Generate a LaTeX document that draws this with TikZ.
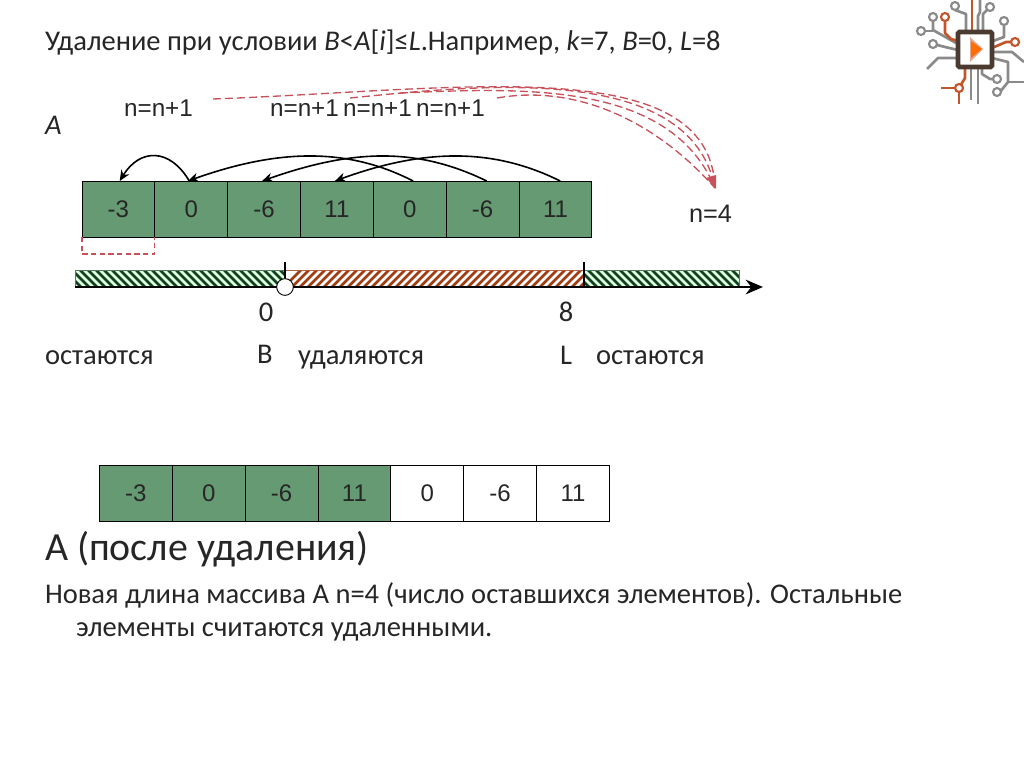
\documentclass[tikz,border=0pt]{standalone}
\usepackage{fontspec}
\setmainfont{Carlito}
\newfontfamily\arialf{Liberation Sans}
\usetikzlibrary{arrows.meta}
\definecolor{cellgreen}{HTML}{669A73}
\definecolor{hatchgreen}{HTML}{10401F}
\definecolor{hatchred}{HTML}{A23A12}
\definecolor{dashred}{HTML}{C8515A}
\definecolor{chipgray}{HTML}{8A8A8A}
\definecolor{chiporange}{HTML}{C4552B}
\definecolor{chipdark}{HTML}{4A3A30}
\tikzset{
  cell/.style={draw=black,line width=0.7pt,fill=cellgreen,minimum width=54.6pt,minimum height=42pt,inner sep=0pt,outer sep=0pt,font=\arialf\fontsize{18}{22}\selectfont,text=black!85},
  whitecell/.style={cell,fill=white},
  txt/.style={anchor=base west,inner sep=0pt,outer sep=0pt,font=\fontsize{21.4}{26}\selectfont,text=black!85},
  lab/.style={anchor=base,inner sep=0pt,font=\arialf\fontsize{18.2}{22}\selectfont,text=black!85},
  movearc/.style={line width=1.2pt,-{Stealth[length=8pt,width=7pt]}},
  reddash/.style={draw=dashred,line width=1pt,dash pattern=on 6pt off 3pt},
  chipg/.style={draw=chipgray,line width=2pt,line join=round},
  chipo/.style={draw=chiporange,line width=2pt,line join=round},
  padg/.style={draw=chipgray,line width=1.6pt,fill=white},
  pado/.style={draw=chiporange,line width=1.6pt,fill=white},
}
\begin{document}
\begin{tikzpicture}[x=0.75pt,y=-0.75pt]
\useasboundingbox (0,0) rectangle (1024,767);
% title
\node[txt] (title) at (45,50.5) {Удаление при условии \textit{B}<\textit{A}[\textit{i}]≤\textit{L}.Например, \textit{k}=7, \textit{B}=0, \textit{L}=8};
\node[txt] (aname) at (45,134) {\textit{A}};
\node[lab] (n1) at (158.5,116) {n=n+1};
\node[lab] (n2) at (304.5,116) {n=n+1};
\node[lab] (n3) at (377.5,116) {n=n+1};
\node[lab] (n4) at (450.5,116) {n=n+1};
% top array
\foreach \i/\v [count=\c from 0] in {a/-3,b/0,c/-6,d/11,e/0,f/-6,g/11}{
  \node[cell] (t\i) at ({118.4+72.85*\c},209) {\v};
}
\node[lab,font=\arialf\fontsize{19}{22}\selectfont] (n5) at (710.5,222) {n=4};
% arcs
\draw[movearc] ([xshift=-1.5pt]tb.north) .. controls (170,148) and (140,148) .. ([xshift=1pt]ta.north);
\draw[movearc] ([xshift=2.5pt]te.north) .. controls (345,146) and (275,150) .. ([xshift=-2.5pt]tb.north);
\draw[movearc] ([xshift=3pt]tf.north) .. controls (415,146) and (350,150) .. ([xshift=-1.5pt]tc.north);
\draw[movearc] ([xshift=3.5pt]tg.north) .. controls (490,146) and (420,150) .. ([xshift=-1.5pt]td.north);
% red dashed curves
\coordinate (rend) at (715,188);
\coordinate (rs1) at (213,99);
\coordinate (rs2) at (350,98);
\coordinate (rs3) at (400,93);
\coordinate (rs4) at (497,98);
\draw[reddash] (rs1) .. controls (460,90) and (710,50) .. (rend);
\draw[reddash] (rs2) .. controls (480,85) and (690,62) .. (rend);
\draw[reddash] (rs3) .. controls (520,88) and (670,80) .. (rend);
\draw[reddash] (rs4) .. controls (570,85) and (650,115) .. (rend);
\fill[dashred] (706,178) -- (716,175) -- (716,189) -- cycle;
% dashed rectangle under first cell
\draw[draw=dashred,line width=0.8pt,dash pattern=on 4pt off 2.5pt] (ta.south west) -- ++(0,17) -| (ta.south east);
% hatched axis
\fill[green!12!white] (75,270) rectangle (285,287);
\fill[green!12!white] (584,270) rectangle (739,287);
\begin{scope}
\clip (75,270) rectangle (285,287);
\foreach \x in {60,68,...,300} \draw[hatchgreen,line width=2pt] (\x,266) -- (\x+25,291);
\end{scope}
\begin{scope}
\clip (285,270) rectangle (584,287);
\foreach \x in {280,288,...,610} \draw[hatchred,line width=1.9pt] (\x,291) -- (\x+25,266);
\end{scope}
\begin{scope}
\clip (584,270) rectangle (739,287);
\foreach \x in {560,568,...,750} \draw[hatchgreen,line width=2pt] (\x,266) -- (\x+25,291);
\end{scope}
\draw[draw=hatchgreen!70,line width=0.7pt] (75,270) rectangle (285,287);
\draw[draw=hatchred!80,line width=0.7pt] (285,270) -- (584,270);
\draw[draw=hatchgreen!70,line width=0.7pt] (584,270) rectangle (739,287);
\coordinate (axs) at (75,287);
\coordinate (axe) at (763,287);
\draw[line width=1.6pt,-{Stealth[length=13pt,width=11pt]}] (axs) -- (axe);
\node[circle,draw=black,fill=white,line width=0.7pt,minimum size=12.5pt,inner sep=0pt] (bpt) at (285,287) {};
\coordinate (tk1) at (285,262);
\draw[line width=2.2pt] (tk1) -- (285,278);
\coordinate (tk2) at (584,262);
\draw[line width=1.8pt] (tk2) -- (584,287);
% labels
\node[txt,anchor=base] (v0) at (266,321) {0};
\node[txt,anchor=base] (v8) at (566,321) {8};
\node[txt] (l1) at (45,364.5) {остаются};
\node[txt] (l2) at (257,363) {B};
\node[txt] (l3) at (298,364.5) {удаляются};
\node[txt] (l4) at (560,364.5) {L};
\node[txt] (l5) at (596,364.5) {остаются};
% bottom array
\foreach \i/\v/\s [count=\c from 0] in {a/-3/cell,b/0/cell,c/-6/cell,d/11/cell,e/0/whitecell,f/-6/whitecell,g/11/whitecell}{
  \node[\s] (u\i) at ({135.9+72.85*\c},493) {\v};
}
\node[txt,font=\fontsize{29.9}{34}\selectfont] (after) at (45,560) {А (после удаления)};
\node[txt] (p1) at (45,603) {Новая длина массива А n=4 (число оставшихся элементов). Остальные};
\node[txt] (p2) at (76,636) {элементы считаются удаленными.};
% logo
\draw[chipo] (972,0) -- (972,34);
\draw[chipg] (955,6) -- (955,10) -- (966,14) -- (966,34);
\draw[chipg] (980,0) -- (980,12) -- (978,16) -- (978,34);
\draw[chipg] (990,7) -- (983,14) -- (983,34);
\draw[chipg] (933,19) -- (933,30) -- (956,43);
\draw[chipo] (945,20) -- (945,33) -- (951,39) -- (958,41);
\draw[chipg] (921,31) -- (933,31);
\draw[chipg] (933,44) -- (945,47) -- (958,50);
\draw[chipg] (927,69) -- (938,58) -- (958,58);
\draw[chipg] (1004,24) -- (1004,37) -- (993,41);
\draw[chipo] (1020,42) -- (1006,42) -- (992,48);
\draw[chipg] (992,52) -- (1012,52) -- (1024,62);
\draw[chipg] (992,58) -- (1008,62) -- (1008,82) -- (1000,92);
\draw[chipg] (1008,82) -- (1024,82);
\draw[chipg] (982,66) -- (982,74) -- (990,79) -- (997,79);
\draw[chipo] (965,66) -- (965,78) -- (959,88);
\draw[chipo] (941,88) -- (958,88);
\draw[chipo] (959,88) -- (959,104);
\draw[chipg] (971,66) -- (971,100);
\draw[chipg] (978,66) -- (978,104);
\foreach \p in {(955,6),(990,7),(933,17),(921,31),(933,44),(1004,21),(997,79),(997,92)} \node[circle,padg,minimum size=6pt,inner sep=0pt] at \p {};
\foreach \p in {(945,17),(1015,42),(959,88)} \node[circle,pado,minimum size=6pt,inner sep=0pt] at \p {};
\draw[chipdark,line width=3.5pt,fill=white,rounded corners=1pt] (958,32) rectangle (992,67);
\fill[chiporange!50!white] (970,37) -- (970,62) -- (983,49) -- cycle;
\fill[orange!85!red] (971,41) -- (971,58) -- (982,49) -- cycle;
\end{tikzpicture}
\end{document}
